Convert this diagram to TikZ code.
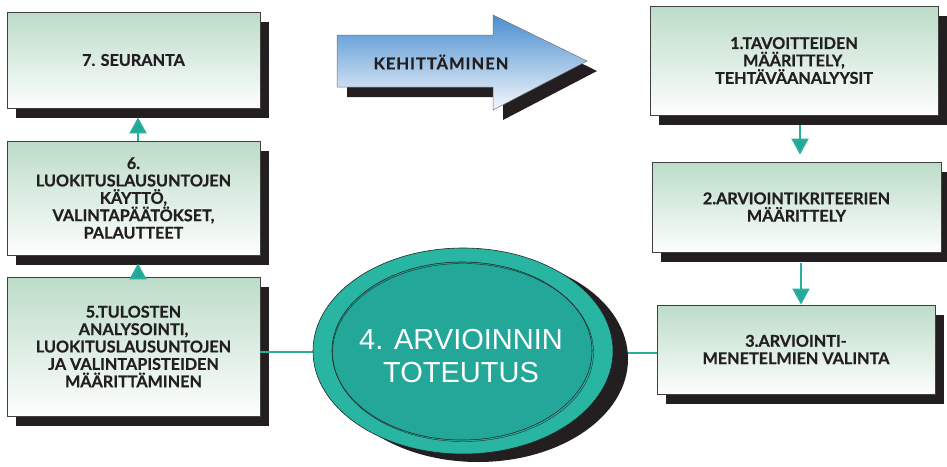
\documentclass[tikz,border=0pt]{standalone}
\usepackage{fontspec}
\newfontfamily\boxfont[BoldFeatures={FakeBold=0.6}]{Lato}
\newfontfamily\arrowfont[BoldFeatures={FakeBold=0.6,LetterSpace=6}]{Lato}
\newfontfamily\arialfont{Liberation Sans}
\usetikzlibrary{shapes.geometric,shadows,arrows.meta}
\definecolor{boxtop}{HTML}{BCDCC8}
\definecolor{shadowcol}{HTML}{231F20}
\definecolor{tealline}{HTML}{2AAE9C}
\definecolor{tealhead}{HTML}{22A89A}
\definecolor{ringcol}{HTML}{28B5A2}
\definecolor{innercol}{HTML}{22A799}
\definecolor{txtcol}{HTML}{231F20}
\definecolor{arrtop}{HTML}{4A8ED0}
\definecolor{arrbot}{HTML}{F4F7FC}
\tikzset{
  stepbox/.style={draw=black!75, line width=0.8pt, top color=boxtop, bottom color=white!97!boxtop,
    general shadow={fill=shadowcol, shadow xshift=9pt, shadow yshift=-10pt},
    align=center, inner sep=2pt, text=txtcol,
    font=\boxfont\bfseries\fontsize{16.2}{17.4}\selectfont},
  flowarr/.style={draw=tealline, line width=2pt,
    -{Triangle[width=17pt,length=16pt,fill=tealhead]}},
  link/.style={draw=tealline, line width=1.5pt}
}
\begin{document}
\begin{tikzpicture}[x=1pt,y=-1pt]
\useasboundingbox (0,0) rectangle (947,466);

% boxes
\node[stepbox, minimum width=253pt, minimum height=96pt]  (b7) at (133.5,60)   {7. SEURANTA};
\node[stepbox, minimum width=253pt, minimum height=114pt] (b6) at (133.5,198)  {6.\\LUOKITUSLAUSUNTOJEN\\KÄYTTÖ,\\VALINTAPÄÄTÖKSET,\\PALAUTTEET};
\node[stepbox, minimum width=253pt, minimum height=139pt] (b5) at (133.5,346.5){5.TULOSTEN\\ANALYSOINTI,\\LUOKITUSLAUSUNTOJEN\\JA VALINTAPISTEIDEN\\MÄÄRITTÄMINEN};
\node[stepbox, minimum width=288pt, minimum height=109pt] (b1) at (794,60.5)   {1.TAVOITTEIDEN\\MÄÄRITTELY,\\TEHTÄVÄANALYYSIT};
\node[stepbox, minimum width=289pt, minimum height=90pt]  (b2) at (796.5,207)  {2.ARVIOINTIKRITEERIEN\\MÄÄRITTELY};
\node[stepbox, minimum width=278pt, minimum height=89pt]  (b3) at (796,349.5)  {3.ARVIOINTI-\\MENETELMIEN VALINTA};

% connectors between boxes
\draw[flowarr] ([xshift=4.5pt]b6.north) -- ([xshift=4.5pt,yshift=-9pt]b7.south);
\draw[flowarr] ([xshift=4.5pt]b5.north) -- ([xshift=4.5pt,yshift=-8pt]b6.south);
\draw[flowarr] ([xshift=6pt,yshift=-10pt]b1.south) -- ([xshift=3.5pt,yshift=7pt]b2.north);
\draw[flowarr] ([xshift=4.5pt,yshift=-11pt]b2.south) -- ([xshift=5pt]b3.north);

% central ellipse
\node[ellipse, minimum width=300pt, minimum height=206pt, inner sep=0pt] (ell) at (463,351) {};
\draw[link] (ell.west |- 0,352) -- (b5.east |- 0,352);
\draw[link] (b3.west |- 0,353) -- (ell.east |- 0,353);
\fill[shadowcol] (478,359) ellipse [x radius=150pt, y radius=103pt];
\draw[fill=ringcol, draw=black!85, line width=0.6pt] (463,351) ellipse [x radius=150pt, y radius=103pt];
\draw[fill=innercol, draw=black!85, line width=0.6pt] (462,351) ellipse [x radius=130pt, y radius=89pt];
\draw[draw=black!85, line width=0.4pt] (463,352.5) ellipse [x radius=130.5pt, y radius=89pt];
\node[text=white, align=center, font=\arialfont\fontsize{29}{33}\selectfont] (t4) at (461,356) {4. ARVIOINNIN\\TOTEUTUS};

% development arrow
\fill[shadowcol] (347,45) -- (503,45) -- (503,25) -- (597,71) -- (503,120) -- (503,97) -- (347,97) -- cycle;
\shade[top color=arrtop, bottom color=arrbot, draw=black!55, line width=0.5pt]
  (337,35) -- (493,35) -- (493,15) -- (587,61) -- (493,110) -- (493,87) -- (337,87) -- cycle;
\node[text=txtcol, font=\arrowfont\bfseries\fontsize{16.5}{18}\selectfont] (dev) at (441,62) {KEHITTÄMINEN};
\end{tikzpicture}
\end{document}
